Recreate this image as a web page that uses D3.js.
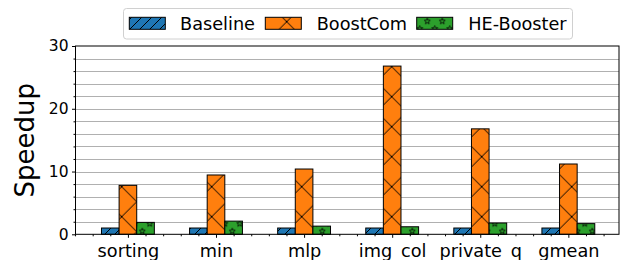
<!DOCTYPE html>
<html>
<head>
<style>
  body {
    margin: 0;
    background-color: #ffffff;
  }
  text {
    font-family: 'DejaVu Sans', sans-serif;
    fill: #000;
  }
</style>
<script src="https://d3js.org/d3.v7.min.js"></script>
</head>
<body>
<script>
  // data
  const categories = ['sorting', 'min', 'mlp', 'img_col', 'private_q', 'gmean'];
  const baseline = [1, 1, 1, 1, 1, 1];
  const boostCom = [7.8, 9.45, 10.4, 26.8, 16.8, 11.2];
  const heBooster = [1.9, 2.1, 1.3, 1.2, 1.8, 1.7];
  const seriesNames = ['Baseline', 'BoostCom', 'HE-Booster'];
  const yTicks = [0, 10, 20, 30];

  const colors = {
    blue: '#1f77b4',
    orange: '#ff7f0e',
    green: '#2ca02c',
    grid: '#b0b0b0',
  };

  const width = 621;
  const height = 260;
  const plot = { left: 75.5, right: 619, top: 46, bottom: 234.3 };

  const svg = d3.select('body')
    .append('svg')
    .attr('width', width)
    .attr('height', height);

  const defs = svg.append('defs');

  // hatch '/' for Baseline
  const pBlue = defs.append('pattern')
    .attr('id', 'hatch-blue')
    .attr('patternUnits', 'userSpaceOnUse')
    .attr('width', 10).attr('height', 10)
    .attr('patternTransform', 'translate(9,0)');
  pBlue.append('rect').attr('width', 10).attr('height', 10).attr('fill', colors.blue);
  pBlue.append('path')
    .attr('d', 'M0,10L10,0M-2.5,2.5L2.5,-2.5M7.5,12.5L12.5,7.5')
    .attr('stroke', '#000').attr('stroke-width', 1);

  // hatch 'x' for BoostCom
  const pOrange = defs.append('pattern')
    .attr('id', 'hatch-orange')
    .attr('patternUnits', 'userSpaceOnUse')
    .attr('width', 30).attr('height', 30)
    .attr('patternTransform', 'translate(1.7,6.7)');
  pOrange.append('rect').attr('width', 30).attr('height', 30).attr('fill', colors.orange);
  pOrange.append('path')
    .attr('d', 'M-2,-2L32,32M-2,32L32,-2')
    .attr('stroke', '#000').attr('stroke-width', 1);

  // hatch '*' for HE-Booster
  const starPath = (cx, cy, r1, r2) => {
    const pts = [];
    for (let i = 0; i < 10; i++) {
      const r = i % 2 === 0 ? r1 : r2;
      const a = -Math.PI / 2 + i * Math.PI / 5;
      pts.push([cx + r * Math.cos(a), cy + r * Math.sin(a)]);
    }
    return 'M' + pts.map(p => p.join(',')).join('L') + 'Z';
  };
  const pGreen = defs.append('pattern')
    .attr('id', 'hatch-green')
    .attr('patternUnits', 'userSpaceOnUse')
    .attr('width', 15).attr('height', 15)
    .attr('patternTransform', 'translate(7.3,6.3)');
  pGreen.append('rect').attr('width', 15).attr('height', 15).attr('fill', colors.green);
  const starCenters = [[0, 0], [15, 0], [0, 15], [15, 15], [7.5, 7.5]];
  pGreen.append('path')
    .attr('d', starCenters.map(c => starPath(c[0], c[1], 3.2, 1.3)).join(''))
    .attr('fill', 'none')
    .attr('stroke', '#000').attr('stroke-width', 0.8);

  const fills = ['url(#hatch-blue)', 'url(#hatch-orange)', 'url(#hatch-green)'];
  const series = [baseline, boostCom, heBooster];

  const x = d3.scaleLinear()
    .domain([-0.595, categories.length - 1 + 0.575])
    .range([plot.left, plot.right]);

  const y = d3.scaleLinear()
    .domain([0, 30])
    .range([plot.bottom, plot.top]);

  const barWidth = 0.2;

  // grid lines every 2
  const gridValues = d3.range(2, 30, 2);
  svg.append('g')
    .selectAll('line')
    .data(gridValues)
    .join('line')
    .attr('x1', plot.left)
    .attr('x2', plot.right)
    .attr('y1', d => Math.round(y(d)) + 0.5)
    .attr('y2', d => Math.round(y(d)) + 0.5)
    .attr('stroke', colors.grid)
    .attr('stroke-width', 1);

  // bars
  series.forEach((values, s) => {
    svg.append('g')
      .selectAll('rect')
      .data(values)
      .join('rect')
      .attr('x', (d, i) => x(i + (s - 1) * barWidth - barWidth / 2))
      .attr('width', (d, i) => x(i + barWidth / 2) - x(i - barWidth / 2))
      .attr('y', d => y(d))
      .attr('height', d => y(0) - y(d))
      .attr('fill', fills[s])
      .attr('stroke', '#000')
      .attr('stroke-width', 1);
  });

  // y axis
  const yAxis = d3.axisLeft(y)
    .tickValues(yTicks)
    .tickSize(3.5)
    .tickPadding(3.5)
    .tickFormat(d3.format('d'));
  const yAxisG = svg.append('g')
    .attr('transform', `translate(${plot.left},0)`)
    .call(yAxis);
  yAxisG.select('.domain').remove();
  yAxisG.selectAll('text')
    .style('font-size', '15.5px')
    .style('font-family', "'DejaVu Sans', sans-serif");

  const yMinor = d3.axisLeft(y)
    .tickValues(d3.range(0, 31, 2).filter(v => v % 10 !== 0))
    .tickSize(2)
    .tickFormat('');
  svg.append('g')
    .attr('transform', `translate(${plot.left},0)`)
    .call(yMinor)
    .select('.domain').remove();

  // x axis
  const xAxis = d3.axisBottom(x)
    .tickValues(d3.range(categories.length))
    .tickSize(3.5)
    .tickPadding(6.5)
    .tickFormat(i => categories[i]);
  const xAxisG = svg.append('g')
    .attr('transform', `translate(0,${plot.bottom})`)
    .call(xAxis);
  xAxisG.select('.domain').remove();
  xAxisG.selectAll('text')
    .style('font-size', '17.7px')
    .style('font-family', "'DejaVu Sans', sans-serif");

  const xMinorVals = d3.range(-3, 28).map(v => v * 0.2).filter(v => Math.abs(v - Math.round(v)) > 0.01);
  const xMinor = d3.axisBottom(x)
    .tickValues(xMinorVals)
    .tickSize(2)
    .tickFormat('');
  svg.append('g')
    .attr('transform', `translate(0,${plot.bottom})`)
    .call(xMinor)
    .select('.domain').remove();

  // frame
  svg.append('rect')
    .attr('x', plot.left)
    .attr('y', plot.top)
    .attr('width', plot.right - plot.left)
    .attr('height', plot.bottom - plot.top)
    .attr('fill', 'none')
    .attr('stroke', '#000')
    .attr('stroke-width', 1);

  // y label
  svg.append('text')
    .attr('transform', `translate(34,${(plot.top + plot.bottom) / 2}) rotate(-90)`)
    .attr('text-anchor', 'middle')
    .style('font-size', '26px')
    .text('Speedup');

  // legend
  const legend = svg.append('g');
  legend.append('rect')
    .attr('x', 123.5).attr('y', 8.5)
    .attr('width', 449).attr('height', 30.5)
    .attr('rx', 3)
    .attr('fill', '#fff')
    .attr('fill-opacity', 0.8)
    .attr('stroke', '#d0d0d0')
    .attr('stroke-width', 1);

  const legendPatchX = [129.3, 265.3, 416.7];
  const legendTextX = [180, 316.7, 468.3];
  seriesNames.forEach((name, s) => {
    legend.append('rect')
      .attr('x', legendPatchX[s]).attr('y', 17.3)
      .attr('width', 36).attr('height', 12)
      .attr('fill', fills[s])
      .attr('stroke', '#000')
      .attr('stroke-width', 1);
    legend.append('text')
      .attr('x', legendTextX[s])
      .attr('y', 29.5)
      .style('font-size', '17.7px')
      .text(name);
  });
</script>
</body>
</html>
